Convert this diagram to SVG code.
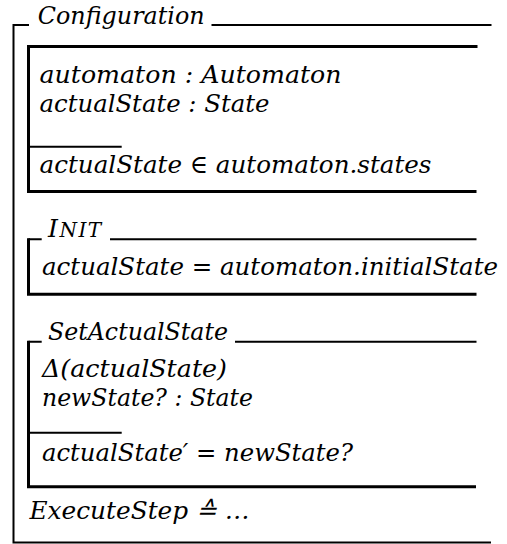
<svg xmlns="http://www.w3.org/2000/svg" width="507" height="544" viewBox="0 0 507 544">
<style>
.thin{stroke:#000;stroke-width:2;fill:none}
.thick{stroke:#000;stroke-width:3;fill:none}
.t{font-family:"DejaVu Serif",serif;font-style:italic;font-size:25px;fill:#000}
.sc{font-size:20px}
</style>
<rect width="507" height="544" fill="#fff"/>
<g id="configuration">
  <path class="thin" d="M13.5,25 H29 M211.5,25 H491.5 M13.5,24 V543.5 M12.5,542.5 H491"/>
  <text class="t" x="37.7" y="23.5" textLength="167" lengthAdjust="spacingAndGlyphs">Configuration</text>
</g>
<g id="state-schema">
  <path class="thick" d="M28.5,45 V193 M27,46.5 H477.5 M27,191.5 H476.5"/>
  <path class="thin" d="M28.5,146.7 H121.7"/>
  <text class="t" x="39.5" y="82.5" textLength="302" lengthAdjust="spacingAndGlyphs">automaton : Automaton</text>
  <text class="t" x="39.5" y="111.5" textLength="230" lengthAdjust="spacingAndGlyphs">actualState : State</text>
  <text class="t" x="39.5" y="173.3" textLength="392" lengthAdjust="spacingAndGlyphs">actualState ∈ automaton.states</text>
</g>
<g id="init-schema">
  <path class="thin" d="M28.5,239.3 H41.7 M110,239.3 H476.5"/>
  <path class="thick" d="M28.5,238.3 V295.8 M27,294.3 H476.5"/>
  <text class="t" x="48" y="236.7" font-size="26" letter-spacing="1.5">I<tspan class="sc">NIT</tspan></text>
  <text class="t" x="42" y="275" textLength="456" lengthAdjust="spacingAndGlyphs">actualState = automaton.initialState</text>
</g>
<g id="set-actual-state">
  <path class="thin" d="M28.5,341.7 H41.7 M235,341.7 H476.5 M28.5,432.7 H121.7"/>
  <path class="thick" d="M28.5,340.7 V488.2 M27,486.7 H476"/>
  <text class="t" x="48" y="340" textLength="180" lengthAdjust="spacingAndGlyphs">SetActualState</text>
  <text class="t" x="42" y="377" textLength="185" lengthAdjust="spacingAndGlyphs">Δ(actualState)</text>
  <text class="t" x="42" y="405.5" textLength="211" lengthAdjust="spacingAndGlyphs">newState? : State</text>
  <text class="t" x="42" y="461" textLength="311" lengthAdjust="spacingAndGlyphs">actualState′ = newState?</text>
</g>
<g id="execute-step">
  <text class="t" x="29.5" y="519" textLength="220" lengthAdjust="spacingAndGlyphs">ExecuteStep ≙ …</text>
</g>
<g id="connectors"/>
</svg>
